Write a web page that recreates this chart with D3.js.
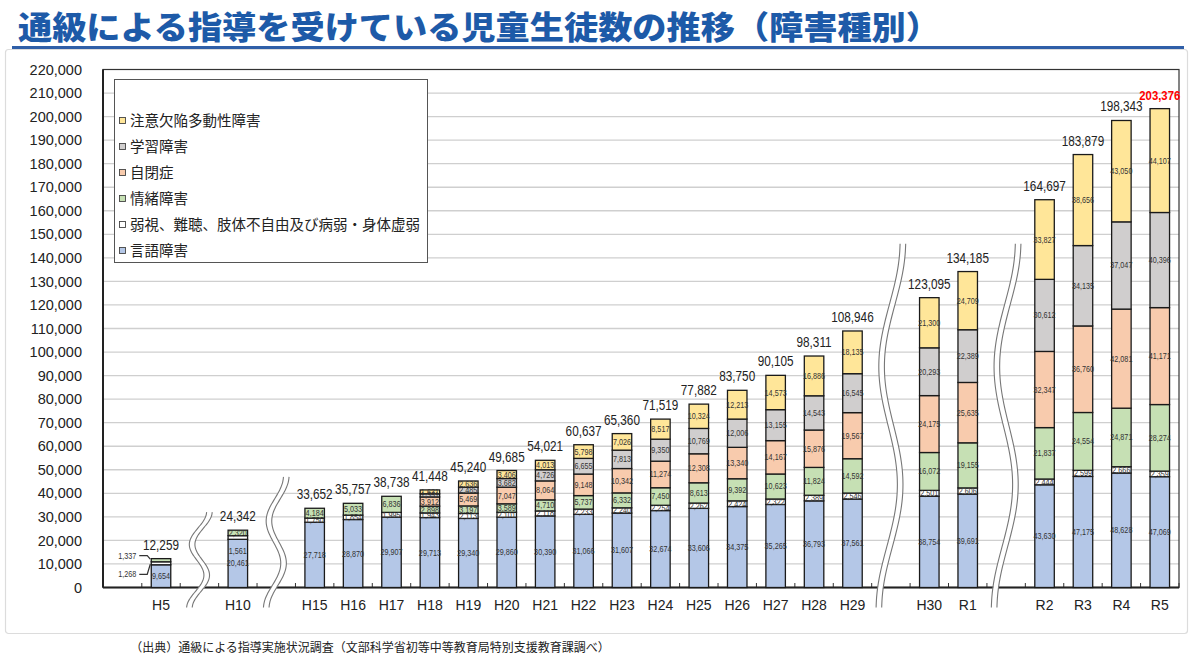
<!DOCTYPE html>
<html>
<head>
<meta charset="utf-8">
<script src="https://cdn.jsdelivr.net/npm/d3@7"></script>
<style>
  body { margin: 0; background: #fff; }
  svg { display: block; }
</style>
</head>
<body>
<svg id="chart" width="1200" height="660"></svg>
<script>
"use strict";

// school years (bars) and the break slots between them
var years = ["H5", "H10", "H15", "H16", "H17", "H18", "H19", "H20", "H21", "H22", "H23",
  "H24", "H25", "H26", "H27", "H28", "H29", "H30", "R1", "R2", "R3", "R4", "R5"];
var slots = ["H5", "~1", "H10", "~2", "H15", "H16", "H17", "H18", "H19", "H20", "H21", "H22",
  "H23", "H24", "H25", "H26", "H27", "H28", "H29", "~3", "H30", "R1", "~4", "R2", "R3", "R4", "R5"];
var breakSlots = ["~1", "~2", "~3", "~4"];
var breakTops = [32000, 47000, 146000, 146000];

// series, bottom to top
var gengo = [9654, 20461, 27718, 28870, 29907, 29713, 29340, 29860, 30390, 31066, 31607,
  32674, 33606, 34375, 35265, 36793, 37561, 38754, 39691, 43630, 47175, 48628, 47069];
var jakushi = [1268, 1561, 1750, 1854, 1995, 1943, 2113, 2101, 2118, 2233, 2240,
  2254, 2262, 2424, 2322, 2389, 2546, 2501, 2606, 2444, 2599, 2666, 2359];
var jocho = [1337, 2320, 4184, 5033, 6836, 2898, 3197, 3589, 4710, 5737, 6332,
  7450, 8613, 9392, 10623, 11824, 14592, 16072, 19155, 21837, 24554, 24871, 28274];
var jiheisho = [null, null, null, null, null, 3912, 5469, 7047, 8064, 9148, 10342,
  11274, 12308, 13340, 14167, 15876, 19567, 24175, 25635, 32347, 36760, 42081, 41171];
var gakushu = [null, null, null, null, null, 1351, 2485, 3682, 4726, 6655, 7813,
  9350, 10769, 12006, 13155, 14543, 16545, 20293, 22389, 30612, 34135, 37047, 40396];
var adhd = [null, null, null, null, null, 1631, 2636, 3406, 4013, 5798, 7026,
  8517, 10324, 12213, 14573, 16886, 18135, 21300, 24709, 33827, 38656, 43050, 44107];

var keys = ["gengo", "jakushi", "jocho", "jiheisho", "gakushu", "adhd"];
var names = ["言語障害", "弱視、難聴、肢体不自由及び病弱・身体虚弱", "情緒障害", "自閉症", "学習障害", "注意欠陥多動性障害"];
var colors = ["#b4c7e7", "#ffffff", "#c6e0b4", "#f8cbad", "#d0cece", "#ffe699"];
var seriesValues = [gengo, jakushi, jocho, jiheisho, gakushu, adhd];

var title = "通級による指導を受けている児童生徒数の推移（障害種別）";
var source = "（出典）通級による指導実施状況調査（文部科学省初等中等教育局特別支援教育課調べ）";

var jp = "'Noto Sans CJK JP', 'Noto Sans', sans-serif";
var num = "'Liberation Sans', Arial, sans-serif";
var squeeze = 0.84;   // numbers in the original are set in a narrow face

var svg = d3.select("#chart");
var plotL = 103, plotR = 1179, plotT = 69.5, plotB = 587.5;

var rows = years.map(function (yr, i) {
  var r = { year: yr };
  keys.forEach(function (k, j) { r[k] = seriesValues[j][i] || 0; });
  r.total = d3.sum(keys, function (k) { return r[k]; });
  return r;
});

var x = d3.scaleBand().domain(slots).range([141.8, plotR]);
var y = d3.scaleLinear().domain([0, 220000]).range([plotB, plotT]);
var barW = 19.5;
function cx(yr) { return x(yr) + x.bandwidth() / 2; }

// title + underline + outer panel
svg.append("rect")
    .attr("x", 5.5).attr("y", 49.5).attr("width", 1182).attr("height", 584)
    .attr("rx", 3)
    .attr("fill", "#fff").attr("stroke", "#dcdcdc").attr("stroke-width", 1.2);
svg.append("text")
    .attr("x", 18).attr("y", 39)
    .attr("textLength", 922).attr("lengthAdjust", "spacingAndGlyphs")
    .attr("font-family", jp).attr("font-weight", 900).attr("font-size", 32)
    .attr("fill", "#1d5aa8")
    .text(title);
svg.append("line")
    .attr("x1", 12).attr("x2", 1184).attr("y1", 47.5).attr("y2", 47.5)
    .attr("stroke", "#2f5fa8").attr("stroke-width", 3);

// gridlines
var ticks = y.ticks(22);
svg.append("g").selectAll("line")
    .data(ticks.filter(function (d) { return d > 0 && d < 220000; }))
  .enter().append("line")
    .attr("x1", plotL).attr("x2", plotR)
    .attr("y1", function (d) { return y(d); })
    .attr("y2", function (d) { return y(d); })
    .attr("stroke", "#cfcfcf").attr("stroke-width", 1.3);

// frame
svg.append("rect")
    .attr("x", plotL).attr("y", plotT).attr("width", plotR - plotL).attr("height", plotB - plotT)
    .attr("fill", "none").attr("stroke", "#333").attr("stroke-width", 1.2);

// y axis labels
var yAxis = svg.append("g")
    .attr("transform", "translate(" + plotL + ",0)")
    .call(d3.axisLeft(y).tickValues(ticks).tickSize(0).tickPadding(21)
      .tickFormat(d3.format(",")));
yAxis.select(".domain").remove();
yAxis.selectAll("text")
    .attr("font-family", num)
    .attr("font-size", 14.5).attr("fill", "#222");

// x axis labels
var xAxis = svg.append("g")
    .attr("transform", "translate(0," + plotB + ")")
    .call(d3.axisBottom(x).tickSize(0).tickPadding(13)
      .tickFormat(function (d) { return breakSlots.indexOf(d) >= 0 ? "" : d; }));
xAxis.select(".domain").remove();
xAxis.selectAll("text")
    .attr("font-family", num)
    .attr("font-size", 14).attr("fill", "#222");

// boundary ticks on the category axis
var bounds = slots.map(function (s) { return x(s); }).concat([plotR]);
svg.append("g").selectAll("line")
    .data(bounds)
  .enter().append("line")
    .attr("x1", function (d) { return d; }).attr("x2", function (d) { return d; })
    .attr("y1", plotB - 4.5).attr("y2", plotB)
    .attr("stroke", "#333").attr("stroke-width", 1);

// axis lines
svg.append("line")
    .attr("x1", plotL).attr("x2", plotR).attr("y1", plotB).attr("y2", plotB)
    .attr("stroke", "#222").attr("stroke-width", 2);
svg.append("line")
    .attr("x1", plotL).attr("x2", plotL).attr("y1", plotT).attr("y2", plotB)
    .attr("stroke", "#222").attr("stroke-width", 2);

// stacked bars
var stacked = d3.stack().keys(keys)(rows);
var layer = svg.append("g").selectAll("g")
    .data(stacked)
  .enter().append("g")
    .attr("fill", function (d, i) { return colors[i]; });

layer.selectAll("rect")
    .data(function (d) { return d.filter(function (p) { return p[1] > p[0]; }); })
  .enter().append("rect")
    .attr("x", function (p) { return cx(p.data.year) - barW / 2; })
    .attr("width", barW)
    .attr("y", function (p) { return y(p[1]); })
    .attr("height", function (p) { return y(p[0]) - y(p[1]); })
    .attr("stroke", "#1a1a1a").attr("stroke-width", 1.3);

// segment value labels
var fmt = d3.format(",");
var segLabels = [];
stacked.forEach(function (s) {
  s.forEach(function (p) {
    if (p[1] <= p[0]) return;
    segLabels.push({ year: p.data.year, key: s.key, v: p[1] - p[0], y0: p[0], y1: p[1] });
  });
});

var labG = svg.append("g")
    .attr("transform", "scale(" + squeeze + ",1)")
    .attr("font-family", num).attr("font-size", 8.6).attr("fill", "#333")
    .attr("text-anchor", "middle");

segLabels.forEach(function (d) {
  var ly = y((d.y0 + d.y1) / 2);
  var lx = cx(d.year);
  if (d.year === "H5" && d.key !== "gengo") {
    // callouts to the left of the first bar
    var up = d.key === "jocho";
    var ty = up ? ly - 4.5 : ly + 11;
    var bx = lx - barW / 2;
    labG.append("text")
        .attr("x", (bx - 15) / squeeze).attr("y", ty).attr("dy", "0.35em")
        .attr("text-anchor", "end")
        .text(fmt(d.v));
    svg.append("path")
        .attr("d", "M" + (bx - 12) + "," + ty + "H" + (bx - 4) + "L" + (bx - 1) + "," + (ly + (up ? -1 : 1)))
        .attr("fill", "none").attr("stroke", "#333").attr("stroke-width", 1.2);
    return;
  }
  if (d.year === "H10" && d.key === "jakushi") {
    ly = y(d.y0 / 2) - 12;
  }
  labG.append("text")
      .attr("x", lx / squeeze).attr("y", ly).attr("dy", "0.35em")
      .text(fmt(d.v));
});

// totals above the bars
var last = rows.length - 1;
svg.append("g")
    .attr("transform", "scale(" + squeeze + ",1)")
  .selectAll("text")
    .data(rows)
  .enter().append("text")
    .attr("x", function (d) { return cx(d.year) / squeeze; })
    .attr("y", function (d) { return y(d.total) - 9; })
    .attr("text-anchor", "middle")
    .attr("font-family", num)
    .attr("font-size", function (d, i) { return i === last ? 13.5 : 14; })
    .attr("font-weight", function (d, i) { return i === last ? "bold" : "normal"; })
    .attr("fill", function (d, i) { return i === last ? "#ff0000" : "#222"; })
    .text(function (d) { return fmt(d.total); });

// axis break marks
function wave(xc, y0, y1, amp) {
  var pts = d3.range(0, 1.0001, 0.02).map(function (t) {
    return [xc + amp * Math.cos(Math.PI * 3 * t) - 4 * (t - 0.5), y0 + t * (y1 - y0)];
  });
  return d3.line().curve(d3.curveBasis)(pts);
}
breakSlots.forEach(function (s, i) {
  var xc = cx(s);
  var y0 = y(breakTops[i]);
  var amp = i < 2 ? 8 : 10;
  svg.append("path").attr("d", wave(xc, y0, plotB + 20, amp))
      .attr("fill", "none").attr("stroke", "#fff").attr("stroke-width", 5);
  [-2.8, 2.8].forEach(function (off) {
    svg.append("path").attr("d", wave(xc + off, y0, plotB + 20, amp))
        .attr("fill", "none").attr("stroke", "#777").attr("stroke-width", 1.1);
  });
});

// legend
var lg = svg.append("g");
lg.append("rect")
    .attr("x", 114.5).attr("y", 79.5).attr("width", 313).attr("height", 183)
    .attr("fill", "#fff").attr("stroke", "#555").attr("stroke-width", 1);
var order = [5, 4, 3, 2, 1, 0];
order.forEach(function (si, i) {
  var ly = 121 + i * 26;
  lg.append("rect")
      .attr("x", 119.5).attr("y", ly - 3.5).attr("width", 6).attr("height", 6)
      .attr("fill", colors[si]).attr("stroke", "#444").attr("stroke-width", 0.9);
  lg.append("text")
      .attr("x", 130).attr("y", ly).attr("dy", "0.36em")
      .attr("font-family", jp).attr("font-size", 14.5).attr("fill", "#222")
      .text(names[si]);
});

// source note
svg.append("text")
    .attr("x", 370).attr("y", 652)
    .attr("text-anchor", "middle")
    .attr("font-family", jp).attr("font-size", 12).attr("fill", "#222")
    .text(source);
</script>
</body>
</html>
